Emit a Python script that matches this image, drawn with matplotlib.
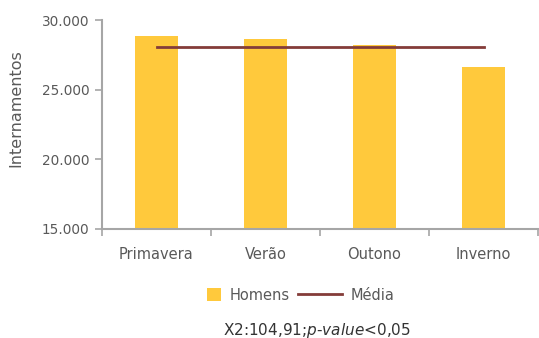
import matplotlib.pyplot as plt
from matplotlib.patches import Rectangle
from matplotlib.legend_handler import HandlerPatch
from matplotlib.ticker import FuncFormatter, FixedLocator

estacoes = ['Primavera', 'Verão', 'Outono', 'Inverno']
homens = [28840, 28650, 28170, 26650]
media = sum(homens) / len(homens)

plt.rcParams['mathtext.fontset'] = 'dejavusans'
cinza = '#595959'
eixo = '#a6a6a6'


def quadrado(legend, orig_handle, xdescent, ydescent, width, height, fontsize):
    # square swatch pushed to the right end of the handle box
    s = 10
    return Rectangle((-xdescent + width - s, -ydescent + (height - s) / 2), s, s)


fig = plt.figure(figsize=(5.39, 3.38), dpi=100)
ax = fig.add_axes([102 / 539, 1 - 229 / 338, 436 / 539, 209 / 338])

x = range(len(estacoes))
barras = ax.bar(x, homens, width=0.4, color='#FFC93C', label='Homens', zorder=2)
linha, = ax.plot([0, len(estacoes) - 1], [media, media], color='#843C39', lw=2,
                 label='Média', zorder=3)

ax.set_xlim(-0.5, len(estacoes) - 0.5)
ax.set_ylim(15000, 30000)
ax.set_yticks([15000, 20000, 25000, 30000])
ax.yaxis.set_major_formatter(FuncFormatter(lambda v, p: f'{v:,.0f}'.replace(',', '.')))
ax.set_xticks(list(x))
ax.set_xticklabels(estacoes)
ax.xaxis.set_minor_locator(FixedLocator([-0.5, 0.5, 1.5, 2.5, 3.5]))
ax.tick_params(axis='x', which='major', length=0, pad=13, labelsize=10.5, labelcolor=cinza)
ax.tick_params(axis='x', which='minor', length=5, width=1.2, color=eixo)
ax.tick_params(axis='y', length=5, width=1.2, color=eixo, labelsize=9.8, labelcolor=cinza, pad=4)

for s in ['top', 'right']:
    ax.spines[s].set_visible(False)
for s in ['left', 'bottom']:
    ax.spines[s].set_color(eixo)
    ax.spines[s].set_linewidth(1.5)

ax.set_ylabel('Internamentos', color=cinza, fontsize=11.5)
ax.yaxis.set_label_coords(-0.181, 0.577)

barra = barras.patches[0]
fig.legend([barra, linha], ['Homens', 'Média'], loc='center',
           bbox_to_anchor=(0.530, 0.127), ncol=2, frameon=False,
           fontsize=10.5, labelcolor=cinza, handlelength=3.0, handletextpad=0.6,
           columnspacing=0.6, handler_map={barra: HandlerPatch(patch_func=quadrado)})

fig.text(0.588, 1 - 330 / 338, r'X2:104,91;$\mathit{p}$-$\mathit{value}$<0,05',
         ha='center', va='center', fontsize=11, color='#333333')

fig.savefig('out.png', dpi=100)
